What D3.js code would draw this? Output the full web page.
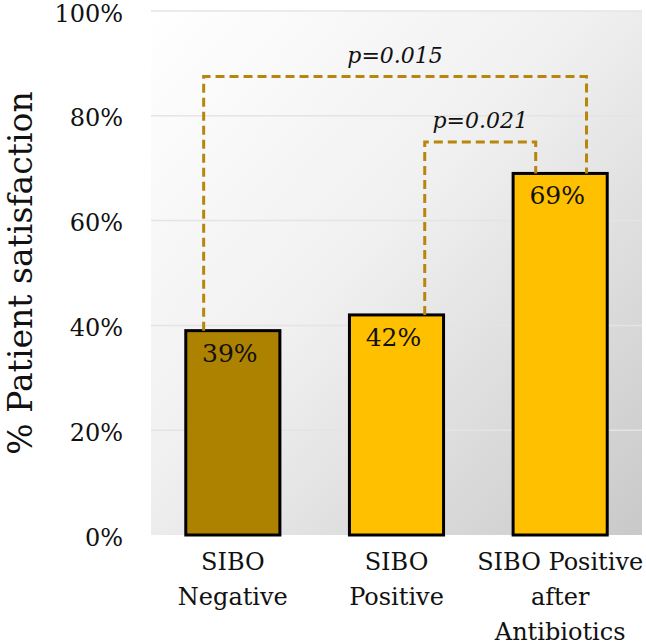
<!DOCTYPE html>
<html>
<head>
<meta charset="utf-8">
<script src="https://cdn.jsdelivr.net/npm/d3@7"></script>
<style>
  body { margin: 0; background: #fff; }
  text { font-family: "DejaVu Serif", serif; fill: #111; }
</style>
</head>
<body>
<div id="chart"></div>
<script>
// data
const categories = ["SIBO Negative", "SIBO Positive", "SIBO Positive after Antibiotics"];
const labelLines = [["SIBO", "Negative"], ["SIBO", "Positive"], ["SIBO Positive", "after", "Antibiotics"]];
const satisfaction = [39, 42, 69];
const barColors = ["#AD8200", "#FFC000", "#FFC000"];
const yTicks = [0, 20, 40, 60, 80, 100];
// significance brackets: from, to, bracket height (%), p label
const bracketFrom = [0, 1];
const bracketTo = [2, 2];
const bracketLevel = [87.5, 75];
const bracketText = ["p=0.015", "p=0.021"];

const W = 646, H = 642;
const margin = { top: 11, right: 4, bottom: 107, left: 151 };
const width = W - margin.left - margin.right;
const height = H - margin.top - margin.bottom;

const svg = d3.select("#chart").append("svg")
    .attr("width", W)
    .attr("height", H);

const defs = svg.append("defs");
const grad = defs.append("linearGradient")
    .attr("id", "bg")
    .attr("x1", "0%").attr("y1", "0%")
    .attr("x2", "100%").attr("y2", "100%");
grad.append("stop").attr("offset", "0%").attr("stop-color", "#ffffff");
grad.append("stop").attr("offset", "45%").attr("stop-color", "#f0f0f0");
grad.append("stop").attr("offset", "100%").attr("stop-color", "#c9c9c9");

const g = svg.append("g")
    .attr("transform", `translate(${margin.left},${margin.top})`);

const x = d3.scaleBand()
    .domain(categories)
    .range([0, width])
    .paddingInner(0.425)
    .paddingOuter(0.2125);

const y = d3.scaleLinear()
    .domain([0, 100])
    .range([height, 0]);

// plot background
g.append("rect")
    .attr("width", width)
    .attr("height", height)
    .attr("fill", "url(#bg)");

// gridlines
g.selectAll("line.grid")
    .data(yTicks.slice(1))
    .enter()
    .append("line")
    .attr("class", "grid")
    .attr("x1", 0)
    .attr("x2", width)
    .attr("y1", d => y(d))
    .attr("y2", d => y(d))
    .attr("stroke", "#e4e4e4")
    .attr("stroke-width", 1.5);

// y axis
const yAxis = g.append("g")
    .call(d3.axisLeft(y).tickValues(yTicks).tickFormat(d => d + "%").tickSize(0).tickPadding(28));
yAxis.select(".domain").remove();
yAxis.selectAll("text")
    .attr("dy", "0.42em")
    .style("font-size", "24px")
    .style("font-family", "DejaVu Serif, serif")
    .attr("fill", "#111");

// y axis title
svg.append("text")
    .attr("transform", `translate(32, ${margin.top + height / 2}) rotate(-90)`)
    .attr("text-anchor", "middle")
    .style("font-size", "33px")
    .text("% Patient satisfaction");

// bars
g.selectAll("rect.bar")
    .data(categories)
    .enter()
    .append("rect")
    .attr("class", "bar")
    .attr("x", d => x(d))
    .attr("y", (d, i) => y(satisfaction[i]))
    .attr("width", x.bandwidth())
    .attr("height", (d, i) => height - y(satisfaction[i]))
    .attr("fill", (d, i) => barColors[i])
    .attr("stroke", "#000")
    .attr("stroke-width", 3);

// brackets
const legX = [
    [0.19, 0.78],
    [0.8, 0.24]
];
bracketFrom.forEach((a, k) => {
    const b = bracketTo[k];
    const xa = x(categories[a]) + x.bandwidth() * legX[k][0];
    const xb = x(categories[b]) + x.bandwidth() * legX[k][1];
    const yl = y(bracketLevel[k]);
    g.append("path")
        .attr("d", `M${xa},${y(satisfaction[a])}V${yl}H${xb}V${y(satisfaction[b])}`)
        .attr("fill", "none")
        .attr("stroke", "#B8860B")
        .attr("stroke-width", 3)
        .attr("stroke-dasharray", "9,5");
    g.append("text")
        .attr("x", (xa + xb) / 2)
        .attr("y", yl - 14)
        .attr("text-anchor", "middle")
        .style("font-size", "22px")
        .style("font-style", "italic")
        .text(bracketText[k]);
});

// value labels
g.selectAll("text.value")
    .data(categories)
    .enter()
    .append("text")
    .attr("class", "value")
    .attr("x", d => x(d) + x.bandwidth() / 2 - 3)
    .attr("y", (d, i) => y(satisfaction[i]) + 31)
    .attr("text-anchor", "middle")
    .style("font-size", "25px")
    .text((d, i) => satisfaction[i] + "%");

// category labels
categories.forEach((c, i) => {
    const t = g.append("text")
        .attr("x", x(c) + x.bandwidth() / 2)
        .attr("y", height + 35)
        .attr("text-anchor", "middle")
        .style("font-size", "24px");
    labelLines[i].forEach((line, j) => {
        t.append("tspan")
            .attr("x", x(c) + x.bandwidth() / 2)
            .attr("dy", j === 0 ? 0 : 35)
            .text(line);
    });
});
</script>
</body>
</html>
